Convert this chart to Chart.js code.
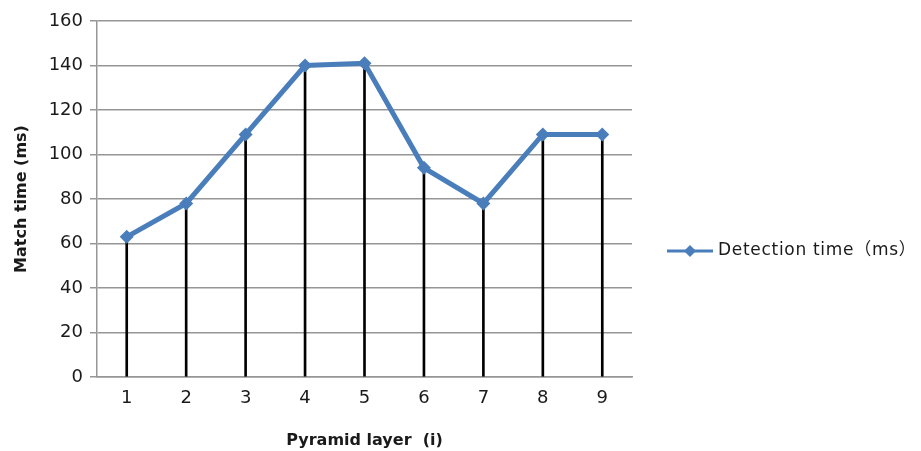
<!DOCTYPE html>
<html>
<head>
<meta charset="utf-8">
<script src="https://cdn.jsdelivr.net/npm/chart.js@4"></script>
<style>
  html, body { margin: 0; padding: 0; background: #fff; }
  #wrap { width: 921px; height: 451px; }
</style>
</head>
<body>
<div id="wrap"><canvas id="chart" width="921" height="451"></canvas></div>
<script>
// Pyramid layers and measured detection time per layer (ms)
const layers = ['1', '2', '3', '4', '5', '6', '7', '8', '9'];
const detectionTime = [63, 78, 109, 140, 141, 94, 78, 109, 109];
const yTicks = { min: 0, max: 160, step: 20 };

const lineBlue = '#4a7ebb';
const gridGray = '#969696';
const textColor = '#1a1a1a';
const baseFont = "'DejaVu Sans', 'Noto Sans CJK SC', sans-serif";

// Legend drawn to the right of the plot: line + diamond swatch, then the series name
const sideLegend = {
  id: 'sideLegend',
  afterDraw(chart) {
    const { ctx, chartArea } = chart;
    const ds = chart.data.datasets[0];
    const x0 = chartArea.right + 35;
    const y = chartArea.bottom - 126;
    ctx.save();
    ctx.strokeStyle = ds.borderColor;
    ctx.lineWidth = 3;
    ctx.beginPath(); ctx.moveTo(x0, y); ctx.lineTo(x0 + 46, y); ctx.stroke();
    ctx.fillStyle = ds.borderColor;
    const cx = x0 + 23;
    ctx.beginPath();
    ctx.moveTo(cx, y - 6); ctx.lineTo(cx + 6, y); ctx.lineTo(cx, y + 6); ctx.lineTo(cx - 6, y);
    ctx.closePath(); ctx.fill();
    ctx.fillStyle = textColor;
    ctx.font = "17px " + baseFont;
    if ('letterSpacing' in ctx) ctx.letterSpacing = '0.7px';
    ctx.textBaseline = 'middle';
    ctx.textAlign = 'left';
    ctx.fillText(ds.label, x0 + 51, y);
    ctx.restore();
  }
};

new Chart(document.getElementById('chart'), {
  type: 'bar',
  data: {
    labels: layers,
    datasets: [
      {
        type: 'line',
        label: 'Detection time（ms）',
        data: detectionTime,
        borderColor: lineBlue,
        backgroundColor: lineBlue,
        borderWidth: 5,
        pointStyle: 'rectRot',
        pointRadius: 7,
        pointHoverRadius: 7,
        pointBackgroundColor: lineBlue,
        pointBorderColor: lineBlue,
        pointBorderWidth: 0,
        tension: 0,
        order: 0
      },
      {
        // drop lines from each point down to the axis
        type: 'bar',
        label: 'drop',
        data: detectionTime,
        backgroundColor: '#000',
        borderWidth: 0,
        barThickness: 2,
        order: 1
      }
    ]
  },
  options: {
    responsive: false,
    animation: false,
    events: [],
    layout: { padding: { top: 21, left: 8, right: 289, bottom: 1 } },
    plugins: {
      tooltip: { enabled: false },
      legend: { display: false }
    },
    scales: {
      x: {
        offset: true,
        grid: { display: false, drawTicks: false },
        border: { display: true, color: gridGray, width: 1.5 },
        ticks: { color: textColor, padding: 11, font: { family: baseFont, size: 18 } },
        title: {
          display: true,
          text: 'Pyramid layer  (i)',
          color: textColor,
          font: { family: baseFont, size: 16, weight: 'bold' },
          padding: { top: 20, bottom: 0 }
        },
        afterFit: (s) => { s.height = 73; }
      },
      y: {
        min: yTicks.min,
        max: yTicks.max,
        grid: { color: gridGray, lineWidth: 1.5, tickLength: 7, drawTicks: true },
        border: { display: true, color: gridGray, width: 1.5 },
        ticks: {
          stepSize: yTicks.step,
          color: textColor,
          padding: 7,
          font: { family: baseFont, size: 18 }
        },
        title: {
          display: true,
          text: 'Match time (ms)',
          color: textColor,
          font: { family: baseFont, size: 16, weight: 'bold' },
          padding: { top: 4, bottom: 4 }
        },
        afterFit: (s) => { s.width = 89; }
      }
    }
  },
  plugins: [sideLegend]
});
</script>
</body>
</html>
